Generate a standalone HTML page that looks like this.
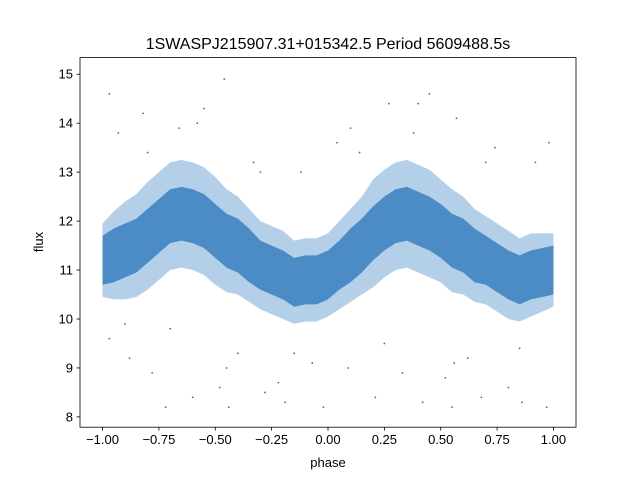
<!DOCTYPE html>
<html><head><meta charset="utf-8"><style>
body{margin:0;background:#fff;}
svg{display:block;font-family:"Liberation Sans","DejaVu Sans",sans-serif;}
</style></head><body>
<svg id="chart" width="640" height="480" viewBox="0 0 640 480" xmlns="http://www.w3.org/2000/svg">
<rect width="640" height="480" fill="#fff"/>
<text x="328" y="49" text-anchor="middle" font-size="16">1SWASPJ215907.31+015342.5 Period 5609488.5s</text>
<g id="plot"></g>
<rect x="80" y="57.6" width="496" height="369.6" fill="none" stroke="#000" stroke-width="0.8"/>
<g id="axes"></g>
<text x="328" y="467" text-anchor="middle" font-size="13">phase</text>
<text transform="translate(43,242) rotate(-90)" text-anchor="middle" font-size="13">flux</text>
</svg>
<script>
const phaseBins=[-1,-0.95,-0.9,-0.85,-0.8,-0.75,-0.7,-0.65,-0.6,-0.55,-0.5,-0.45,-0.4,-0.35,-0.3,-0.25,-0.2,-0.15,-0.1,-0.05,0,0.05,0.1,0.15,0.2,0.25,0.3,0.35,0.4,0.45,0.5,0.55,0.6,0.65,0.7,0.75,0.8,0.85,0.9,0.95,1];
const fluxMean=[11.2,11.3,11.4,11.5,11.7,11.9,12.1,12.15,12.1,12.0,11.8,11.6,11.5,11.3,11.1,11.0,10.9,10.75,10.8,10.8,10.9,11.1,11.3,11.5,11.75,11.95,12.1,12.15,12.05,11.95,11.8,11.6,11.5,11.3,11.2,11.05,10.9,10.8,10.9,10.95,11.0];
const coreHalf=[0.5,0.55,0.55,0.55,0.55,0.55,0.55,0.55,0.55,0.55,0.55,0.55,0.55,0.55,0.5,0.5,0.5,0.5,0.5,0.5,0.5,0.5,0.55,0.55,0.55,0.55,0.55,0.55,0.55,0.55,0.55,0.55,0.55,0.55,0.5,0.5,0.5,0.5,0.5,0.5,0.5];
const outerHalf=[0.75,0.9,1.0,1.05,1.1,1.1,1.1,1.1,1.1,1.1,1.1,1.05,1.0,0.95,0.9,0.9,0.9,0.85,0.85,0.85,0.85,0.9,0.95,1.0,1.1,1.1,1.1,1.1,1.1,1.1,1.05,1.05,1.0,0.95,0.9,0.9,0.9,0.85,0.85,0.8,0.75];
const outlierPhase=[-0.97,-0.93,-0.88,-0.82,-0.78,-0.72,-0.66,-0.6,-0.55,-0.48,-0.46,-0.44,-0.4,-0.33,-0.28,-0.22,-0.19,-0.12,-0.07,-0.02,0.04,0.09,0.14,0.21,0.27,0.33,0.38,0.42,0.45,0.52,0.55,0.57,0.62,0.68,0.74,0.8,0.86,0.92,0.97,-0.97,-0.9,-0.8,-0.7,-0.58,-0.45,-0.3,-0.15,0.1,0.25,0.4,0.56,0.7,0.85,0.98];
const outlierFlux=[9.6,13.8,9.2,14.2,8.9,8.2,13.9,8.4,14.3,8.6,14.9,8.2,9.3,13.2,8.5,8.7,8.3,13.0,9.1,8.2,13.6,9.0,13.4,8.4,14.4,8.9,13.8,8.3,14.6,8.8,8.2,14.1,9.2,8.4,13.5,8.6,8.3,13.2,8.2,14.6,9.9,13.4,9.8,14.0,9.0,13.0,9.3,13.9,9.5,14.4,9.1,13.2,9.4,13.6];
const xTicks=[-1,-0.75,-0.5,-0.25,0,0.25,0.5,0.75,1];
const xTickLabels=["−1.00","−0.75","−0.50","−0.25","0.00","0.25","0.50","0.75","1.00"];
const yTicks=[8,9,10,11,12,13,14,15];
const yTickLabels=["8","9","10","11","12","13","14","15"];

const X0=80,X1=576,Y0=57.6,Y1=427.2,xmin=-1.1,xmax=1.1,ymin=7.79,ymax=15.34;
const xs=v=>X0+(v-xmin)/(xmax-xmin)*(X1-X0);
const ys=v=>Y1-(v-ymin)/(ymax-ymin)*(Y1-Y0);
const NS="http://www.w3.org/2000/svg";
const plot=document.getElementById('plot'),axes=document.getElementById('axes');
function band(half,fill,op,name){
  const up=phaseBins.map((p,i)=>xs(p)+','+ys(fluxMean[i]+half[i]));
  const lo=phaseBins.map((p,i)=>xs(p)+','+ys(fluxMean[i]-half[i])).reverse();
  const pg=document.createElementNS(NS,'polygon');
  pg.setAttribute('points',up.concat(lo).join(' '));
  pg.setAttribute('fill',fill);pg.setAttribute('fill-opacity',op);
  
  
  plot.appendChild(pg);
}
band(outerHalf,'#b4cfe8',1,'scatter-outer-band');
band(coreHalf,'#4b8cc7',1,'scatter-core-band');
outlierPhase.forEach((p,i)=>{
  const c=document.createElementNS(NS,'circle');
  c.setAttribute('cx',xs(p));c.setAttribute('cy',ys(outlierFlux[i]));c.setAttribute('r',0.9);
  c.setAttribute('fill','#1f77b4');
  
  
  plot.appendChild(c);
});
xTicks.forEach((t,i)=>{
  const x=xs(t);
  const l=document.createElementNS(NS,'line');
  l.setAttribute('x1',x);l.setAttribute('x2',x);l.setAttribute('y1',Y1);l.setAttribute('y2',Y1+3.5);l.setAttribute('stroke','#000');l.setAttribute('stroke-width','0.8');
  
  
  axes.appendChild(l);
  const tx=document.createElementNS(NS,'text');
  tx.setAttribute('x',x);tx.setAttribute('y',Y1+17);tx.setAttribute('text-anchor','middle');tx.setAttribute('font-size','13');
  tx.textContent=xTickLabels[i];
  
  
  axes.appendChild(tx);
});
yTicks.forEach((t,i)=>{
  const y=ys(t);
  const l=document.createElementNS(NS,'line');
  l.setAttribute('x1',X0-3.5);l.setAttribute('x2',X0);l.setAttribute('y1',y);l.setAttribute('y2',y);l.setAttribute('stroke','#000');l.setAttribute('stroke-width','0.8');
  
  
  axes.appendChild(l);
  const tx=document.createElementNS(NS,'text');
  tx.setAttribute('x',X0-7);tx.setAttribute('y',y+4.5);tx.setAttribute('text-anchor','end');tx.setAttribute('font-size','13');
  tx.textContent=yTickLabels[i];
  
  
  axes.appendChild(tx);
});
</script>
</body></html>
